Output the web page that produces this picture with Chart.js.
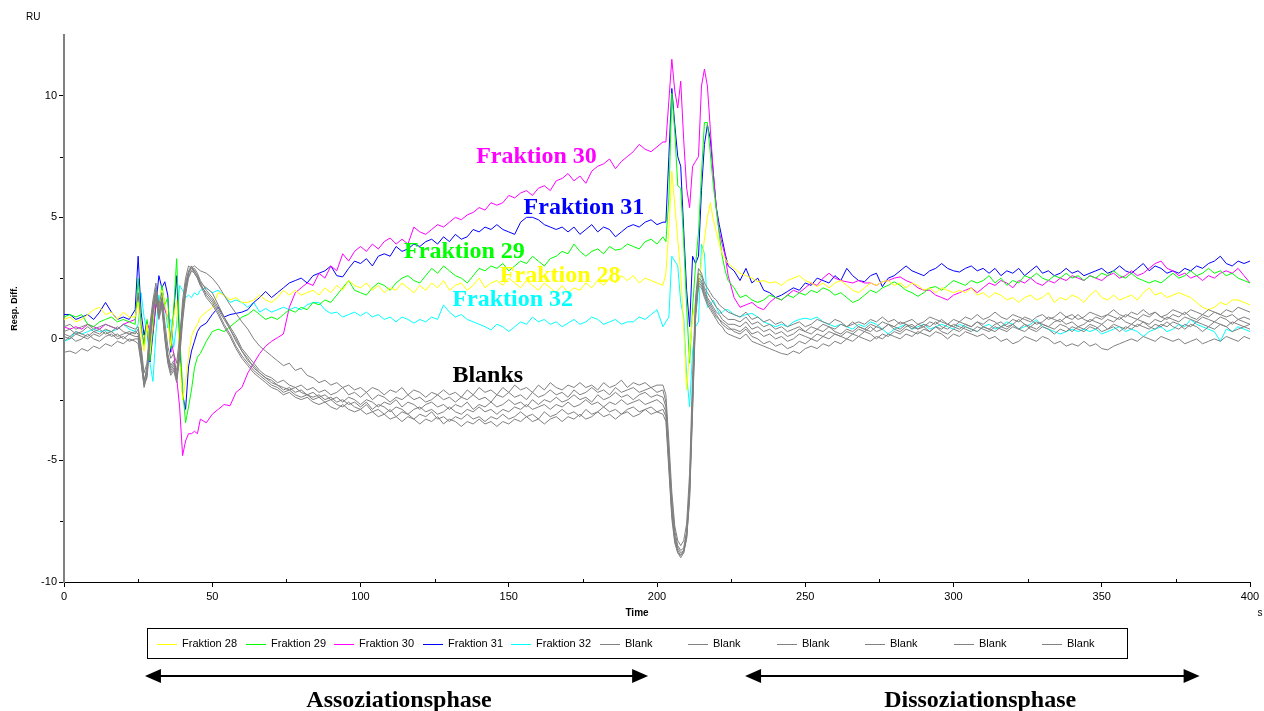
<!DOCTYPE html>
<html>
<head>
<meta charset="utf-8">
<title>Resp. Diff. – Fraktion 28–32</title>
<script src="https://cdn.jsdelivr.net/npm/chart.js@4.4.1/dist/chart.umd.min.js"></script>
<style>
  html, body { margin: 0; padding: 0; background: #fff; }
  canvas { display: block; }
</style>
</head>
<body>
<canvas id="sensorgram" width="1264" height="711"></canvas>
<script>
// Sampling times (s): 2 s steps, 1 s steps around the two injection switches
const times = [
  0,2,4,6,8,10,12,14,16,18,20,22,24,
  25,26,27,28,29,30,31,32,33,34,35,36,37,38,39,40,41,42,43,44,45,46,
  48,50,52,54,56,58,60,62,64,66,68,70,72,74,76,78,80,82,84,86,
  88,90,92,94,96,98,100,102,104,106,108,110,112,114,116,118,120,122,124,126,
  128,130,132,134,136,138,140,142,144,146,148,150,152,154,156,158,160,162,164,166,
  168,170,172,174,176,178,180,182,184,186,188,190,192,194,196,198,200,202,
  203,204,205,206,207,208,209,210,211,212,213,214,215,216,217,218,219,220,221,222,223,224,
  226,228,230,232,234,236,238,240,242,244,246,248,250,252,254,256,258,260,262,264,
  266,268,270,272,274,276,278,280,282,284,286,288,290,292,294,296,298,300,302,304,
  306,308,310,312,314,316,318,320,322,324,326,328,330,332,334,336,338,340,342,344,
  346,348,350,352,354,356,358,360,362,364,366,368,370,372,374,376,378,380,382,384,
  386,388,390,392,394,396,398,400
];

// Response differences (RU)
const fraktion28 = [
  0.8,0.9,0.7,0.8,1.0,1.2,1.3,1.0,1.1,0.8,1.1,0.9,0.9,
  1.5,0.2,-0.5,0.6,-0.6,0.8,1.9,1.2,2.0,1.5, 0.8,-0.3,0.9,1.6,-0.8,-2.5,-1.8,-0.75,0.1,0.4, 0.6,0.9,
  1.1,1.3,1.9,1.8,1.6,1.7,1.5,1.5,1.6,1.8, 1.6,1.5,1.7,2.0,1.8,2.0,1.8,1.9,2.0,1.8,
  2.1,1.9,2.2,2.0,2.4,2.2,2.1,2.3,2.0,2.2, 1.9,2.1,2.0,2.3,2.1,1.9,2.2,2.0,2.3,2.1,
  2.4,2.0,2.2,2.3,2.0,2.2,2.5,2.1,2.3,2.4, 2.2,2.5,2.3,2.1,2.4,2.2,2.0,2.3,2.1,1.9,
  2.2,1.9,2.1,2.0,2.3,2.1,2.4,2.2,2.5,2.3, 2.6,2.4,2.6,2.3,2.5,2.4,2.3,2.2,
  2.7,4.5,6.9,5.5,4.1,2.7,0.5,-2.1,-0.5,0.9, 1.5,2.0,3.2,4.1,5.0,5.6,4.9,4.4,3.9,3.5, 3.3,3.1,
  2.9,2.7,2.6,2.5,2.35,2.4,2.3,2.35,2.2,2.4, 2.5,2.6,2.4,2.3,2.15,2.3,2.1,2.3,2.4,2.2,
  2.0,1.9,2.1,2.3,2.2,2.35,2.4,2.2,2.3,2.1, 2.3,2.2,2.0,2.1,1.9,2.1,2.0,1.9,2.0,1.9,
  2.1,1.8,1.9,1.7,1.9,1.8,1.6,1.7,1.5,1.7, 1.8,1.6,1.7,1.9,1.5,1.7,1.6,1.8,1.7,1.5,
  1.8,2.0,1.7,1.6,1.8,1.6,1.7,1.8,1.6,1.9, 2.1,1.8,1.9,1.7,1.8,1.9,1.8,1.7,1.5,1.3,
  1.2,1.3,1.5,1.4,1.6,1.6,1.5,1.4
];
const fraktion29 = [
  0.9,1.0,0.9,1.0,0.6,0.5,0.7,0.8,0.9,0.7,0.8,0.7,0.6,
  2.5,0.6,-0.3,0.8,-0.9,0.5,2.0,1.0,2.2,1.4, 1.7,-0.4,1.2,3.3,0.2,-2.0,-3.45,-2.8,-2.1,-1.2, -0.75,-0.6,
  -0.1,0.3,0.4,0.3,0.5,0.7,0.9,1.0,1.2,1.0, 0.8,0.9,0.8,1.0,1.2,1.1,1.3,1.2,1.5,1.4,
  1.6,1.5,1.8,2.1,2.4,2.0,1.9,1.8,2.1,2.3, 2.2,2.0,2.3,2.5,2.6,2.4,2.3,2.6,2.9,2.7,
  3.0,2.8,2.6,2.5,2.3,2.6,2.9,2.8,3.0,2.9, 3.1,2.8,3.0,3.2,3.1,3.4,3.2,3.0,3.3,3.4,
  3.6,3.5,3.9,3.6,3.4,3.6,3.7,3.5,3.8,3.65, 3.7,3.9,3.8,3.7,4.0,4.1,3.9,4.2,
  4.0,5.8,10.1,8.5,6.3,6.2,4.0,1.3,-1.0,1.3, 3.0,4.4,6.8,8.9,8.9,7.6,6.3,5.3,4.3,3.4, 2.8,2.4,
  2.1,1.7,1.8,1.6,1.5,1.6,1.8,1.7,1.6,1.8, 1.7,1.9,1.8,2.0,1.9,2.1,2.0,1.8,1.9,1.7,
  1.5,1.6,1.8,2.0,1.9,2.1,2.2,2.35,2.2,2.0, 1.9,1.75,1.9,2.1,2.15,2.0,2.2,2.4,2.3,2.2,
  2.4,2.3,2.4,2.6,2.3,2.5,2.2,2.4,2.3,2.6, 2.5,2.7,2.5,2.4,2.6,2.5,2.7,2.5,2.6,2.4,
  2.6,2.5,2.7,2.6,2.8,2.6,2.5,2.7,2.5,2.4, 2.3,2.4,2.3,2.5,2.7,2.5,2.6,2.8,2.6,2.7,
  2.9,2.7,2.8,2.6,2.7,2.5,2.4,2.3
];
const fraktion30 = [
  0.5,0.4,0.5,0.4,0.6,0.5,0.4,0.6,0.5,0.4,0.6,0.7,0.8,
  1.9,0.4,-0.2,0.7,0.3,0.2,1.5,1.0,1.6,1.2, 0.9,0.0,-0.6,-1.6,-2.8,-4.8,-4.2,-3.9,-3.9,-3.8, -3.9,-3.3,
  -3.45,-3.1,-2.9,-2.7,-2.75,-2.2,-2.0,-1.4,-1.0,-0.6, -0.3,-0.1,0.05,0.2,1.3,1.9,2.1,2.3,2.2,2.7,
  2.5,3.0,2.8,3.5,3.2,3.6,3.8,3.6,3.9,3.7, 4.0,4.15,3.9,4.1,3.9,4.6,4.4,4.3,4.5,4.7,
  4.6,4.8,5.0,4.9,5.1,5.2,5.4,5.3,5.6,5.5, 5.6,5.9,5.8,6.0,6.1,5.9,6.2,6.3,6.1,6.5,
  6.6,6.8,6.5,6.7,6.4,6.9,7.1,7.2,7.4,7.0, 7.3,7.5,7.7,8.0,7.8,7.7,7.9,8.1,
  8.1,9.8,11.5,10.2,9.5,10.6,8.2,6.2,5.4,7.1, 7.3,7.5,10.4,11.1,10.4,8.6,6.8,5.4,4.4,3.9, 3.4,2.6,
  1.7,1.3,1.4,1.5,1.3,1.2,1.5,1.7,1.6,1.8, 2.0,1.9,2.1,2.3,2.2,2.5,2.7,2.5,2.4,2.35,
  2.3,2.4,2.3,2.3,2.2,2.35,2.4,2.5,2.55,2.4, 2.3,2.1,2.0,2.0,1.8,1.7,1.6,1.8,1.9,2.0,
  2.1,1.9,2.1,2.3,2.2,2.4,2.3,2.1,2.4,2.3, 2.5,2.3,2.2,2.4,2.3,2.5,2.4,2.6,2.5,2.4,
  2.6,2.5,2.4,2.6,2.7,2.5,2.6,2.8,2.6,2.7, 2.9,3.1,3.2,2.9,2.8,2.6,2.7,2.5,2.6,2.4,
  2.6,2.5,2.7,2.8,2.7,2.9,2.6,2.3
];
const fraktion31 = [
  1.0,1.0,0.8,0.9,1.0,0.8,1.1,1.5,1.1,0.8,0.9,0.8,1.2,
  3.4,1.1,0.15,0.7,-0.95,0.2,1.4,2.6,2.1,2.35, 1.8,-0.55,1.1,2.6,-0.25,-2.3,-2.9,-1.15,-0.5,-0.1, 0.3,0.5,
  0.65,1.0,1.3,0.9,1.0,1.05,1.1,1.2,1.5,1.7, 1.95,1.7,1.9,2.1,2.3,2.4,2.5,2.3,2.6,2.7,
  2.8,3.0,2.6,2.55,2.9,3.2,3.1,3.3,3.0,3.4, 3.5,3.4,3.8,3.6,3.7,3.9,3.8,4.0,4.1,3.9,
  4.2,4.0,4.3,4.1,4.2,4.5,4.4,4.6,4.5,4.7, 4.5,4.4,4.3,4.8,5.0,5.0,4.9,4.7,4.6,4.5,
  4.6,4.4,4.6,4.3,4.5,4.7,4.4,4.6,4.5,4.2, 4.4,4.6,4.7,4.6,4.8,4.9,4.7,4.8,
  4.8,7.5,10.3,8.8,7.5,7.1,4.5,2.0,0.5,3.4, 3.1,3.4,6.1,8.0,8.8,8.2,6.8,5.4,4.7,4.1, 3.5,3.0,
  2.8,2.4,2.9,2.3,2.5,2.0,1.9,1.7,1.8,1.95, 2.1,2.0,2.3,2.2,2.5,2.4,2.3,2.6,2.4,2.9,
  2.6,2.4,2.35,2.6,2.7,2.15,2.5,2.6,2.8,3.0, 2.8,2.7,2.6,2.8,2.9,3.1,2.9,2.8,2.75,2.9,
  3.0,2.8,2.9,2.7,2.9,2.6,2.8,2.7,2.9,2.6, 2.8,3.0,2.7,2.8,2.6,2.7,2.9,2.7,2.8,2.6,
  2.7,2.8,2.9,2.7,2.8,3.0,2.8,2.7,2.9,3.1, 2.8,3.0,2.9,2.7,2.8,2.7,2.9,2.8,3.0,2.9,
  3.1,3.2,3.4,3.1,3.0,3.2,3.1,3.2
];
const fraktion32 = [
  -0.1,0.0,0.3,0.2,0.3,0.4,0.3,0.35,0.3,0.4,0.6,0.4,0.3,
  0.6,1.9,0.9,0.3,-1.0,-1.75,0.2,1.8,1.2,1.4, 0.45,0.8,-0.35,0.6,2.2,2.0,1.7,1.8,1.7,1.9, 1.8,2.0,
  2.1,1.9,2.0,1.8,1.5,1.6,1.5,1.3,1.5,1.1, 1.25,1.1,1.2,1.3,1.2,1.3,1.2,1.4,1.5,1.5,
  1.2,1.05,1.1,0.9,1.0,1.1,0.95,1.1,0.9,1.0, 0.8,0.9,0.7,0.9,0.8,0.65,0.8,0.7,0.9,0.8,
  1.4,1.1,0.9,1.0,0.8,0.7,0.6,0.5,0.37,0.6, 0.5,0.3,0.5,0.7,0.6,0.9,0.7,0.8,0.6,0.7,
  0.5,0.65,0.8,0.6,0.7,0.9,0.8,0.6,0.7,0.8, 0.6,0.7,0.7,0.9,0.8,1.0,1.2,0.5,
  0.7,0.9,3.4,3.2,3.0,1.5,0.9,-1.5,-2.8,-0.5, 0.5,0.7,3.9,3.5,1.3,1.4,1.6,1.3,1.05,1.1, 1.2,1.2,
  1.0,0.9,1.0,1.05,0.9,0.7,0.6,0.5,0.6,0.5, 0.7,0.8,0.85,0.8,0.9,0.7,0.6,0.5,0.6,0.5,
  0.4,0.6,0.5,0.7,0.6,0.4,0.2,0.4,0.5,0.6, 0.4,0.5,0.6,0.4,0.5,0.6,0.5,0.4,0.6,0.5,
  0.4,0.3,0.5,0.6,0.4,0.5,0.7,0.6,0.4,0.5, 0.6,0.8,0.5,0.4,0.3,0.2,0.3,0.4,0.3,0.4,
  0.3,0.4,0.2,0.3,0.4,0.5,0.3,0.4,0.3,0.1, 0.3,0.4,0.5,0.3,0.4,0.6,0.5,0.8,0.6,0.5,
  0.4,0.3,-0.1,0.4,0.3,0.5,0.4,0.3
];
const blank1 = [
  0.5,0.6,0.4,0.5,0.6,0.4,0.5,0.6,0.5,0.4,0.6,0.5,0.4,
  0.5,-0.3,-1.4,-1.0,0.6,1.6,2.3,1.4,1.9,0.7, -0.3,-0.8,-0.6,-1.0,0.1,1.3,2.2,2.7,2.9,3.0, 2.9,2.8,
  2.7,2.5,2.2,1.8,1.4,1.05,0.7,0.4,0.0,-0.3, -0.5,-0.7,-0.9,-1.1,-1.0,-1.3,-1.2,-1.5,-1.6,-1.8,
  -1.7,-1.9,-1.8,-2.0,-1.9,-2.1,-2.0,-2.2,-2.0,-2.1, -2.3,-2.1,-2.2,-2.0,-2.3,-2.1,-2.2,-2.4,-2.2,-2.3,
  -2.1,-2.3,-2.2,-2.4,-2.1,-2.3,-2.0,-2.2,-2.1,-2.3, -2.0,-2.2,-1.9,-2.1,-2.0,-2.2,-1.9,-2.1,-1.8,-2.0,
  -2.1,-1.9,-2.0,-1.8,-2.0,-1.9,-2.1,-1.8,-2.0,-1.9, -1.7,-2.0,-1.8,-1.9,-1.8,-2.0,-1.9,-1.9,
  -2.3,-4.2,-6.3,-7.7,-8.3,-8.5,-8.3,-7.6,-5.5,-1.5, 1.7,2.9,2.7,2.3,2.1,1.9,1.7,1.6,1.4,1.3, 1.2,1.1,
  1.0,0.9,1.1,0.8,0.9,0.7,0.8,0.6,0.7,0.5, 0.6,0.7,0.5,0.6,0.8,0.7,0.6,0.8,0.7,0.5,
  0.6,0.7,0.6,0.8,0.7,0.9,0.7,0.8,0.6,0.7, 0.8,0.6,0.7,0.9,0.8,0.7,0.6,0.8,0.7,0.9,
  0.8,1.0,0.8,0.9,1.1,0.9,0.8,1.0,0.9,0.8, 0.7,0.9,1.0,0.8,0.9,1.1,0.9,1.0,0.8,0.9,
  1.1,1.0,0.9,1.0,1.2,1.0,0.9,1.1,1.0,1.2, 1.0,1.1,0.9,1.0,1.2,1.1,1.0,1.2,1.1,1.0,
  1.2,1.1,1.0,1.2,1.1,1.3,1.2,1.1
];
const blank2 = [
  0.3,0.4,0.2,0.3,0.5,0.3,0.2,0.4,0.3,0.5,0.3,0.2,0.3,
  0.2,-0.6,-1.7,-1.3,0.4,1.4,2.1,1.1,1.7,0.4, -0.6,-1.1,-0.9,-1.3,-0.2,1.6,2.5,3.0,2.9,2.8, 2.6,2.3,
  2.1,1.9,1.4,0.9,0.5,0.1,-0.4,-0.7,-1.0,-1.3, -1.5,-1.6,-1.8,-1.7,-1.9,-2.0,-1.9,-2.1,-2.0,-2.2,
  -2.1,-2.3,-2.2,-2.0,-2.3,-2.2,-2.4,-2.2,-2.5,-2.3, -2.4,-2.6,-2.4,-2.5,-2.3,-2.5,-2.4,-2.6,-2.5,-2.3,
  -2.5,-2.4,-2.6,-2.4,-2.5,-2.3,-2.5,-2.4,-2.6,-2.3, -2.4,-2.2,-2.4,-2.3,-2.5,-2.2,-2.4,-2.3,-2.1,-2.3,
  -2.2,-2.4,-2.1,-2.3,-2.2,-2.0,-2.2,-2.1,-2.3,-2.0, -2.2,-2.1,-2.0,-2.2,-2.1,-2.0,-2.2,-2.1,
  -2.6,-4.6,-6.6,-7.9,-8.5,-8.7,-8.6,-7.9,-6.0,-2.2, 1.4,2.7,2.6,2.1,1.9,1.7,1.5,1.3,1.2,1.0, 0.9,0.8,
  0.8,0.7,0.9,0.6,0.7,0.5,0.6,0.4,0.5,0.3, 0.4,0.5,0.3,0.5,0.4,0.6,0.5,0.4,0.6,0.5,
  0.7,0.5,0.4,0.6,0.5,0.7,0.6,0.5,0.7,0.6, 0.4,0.6,0.5,0.7,0.6,0.8,0.6,0.5,0.7,0.6,
  0.5,0.7,0.6,0.8,0.7,0.5,0.6,0.8,0.7,0.9, 0.8,0.6,0.7,0.9,0.8,0.7,0.9,0.8,1.0,0.8,
  0.7,0.9,0.8,1.0,0.9,0.8,1.0,0.9,0.8,1.0, 0.9,1.1,0.9,0.8,1.0,0.9,1.1,0.9,0.8,1.0,
  0.9,1.1,1.0,0.9,1.0,0.8,0.9,0.8
];
const blank3 = [
  0.2,0.1,0.3,0.2,0.1,0.3,0.4,0.2,0.3,0.1,0.2,0.3,0.2,
  0.4,-0.4,-1.8,-1.1,0.3,1.3,2.0,1.3,1.6,0.3, -0.7,-1.2,-1.0,-1.5,-0.4,1.2,2.3,2.8,3.0,2.7, 2.5,2.2,
  1.9,1.6,1.2,0.8,0.4,0.0,-0.5,-0.8,-1.2,-1.4, -1.6,-1.7,-1.9,-2.0,-2.1,-2.0,-2.2,-2.3,-2.2,-2.4,
  -2.3,-2.5,-2.4,-2.6,-2.4,-2.5,-2.7,-2.5,-2.6,-2.8, -2.6,-2.7,-2.5,-2.8,-2.6,-2.7,-2.9,-2.7,-2.6,-2.8,
  -2.7,-2.9,-2.7,-2.8,-2.6,-2.9,-2.7,-2.8,-2.6,-2.8, -2.7,-2.5,-2.7,-2.6,-2.8,-2.5,-2.7,-2.5,-2.6,-2.4,
  -2.6,-2.5,-2.3,-2.5,-2.4,-2.6,-2.3,-2.5,-2.4,-2.2, -2.4,-2.3,-2.5,-2.3,-2.2,-2.4,-2.3,-2.4,
  -2.8,-4.9,-6.9,-8.1,-8.6,-8.8,-8.7,-8.1,-6.3,-2.5, 1.2,2.5,2.4,2.0,1.7,1.5,1.3,1.1,1.0,0.8, 0.7,0.6,
  0.6,0.5,0.7,0.4,0.5,0.3,0.4,0.2,0.3,0.1, 0.2,0.4,0.3,0.2,0.4,0.3,0.5,0.3,0.2,0.4,
  0.3,0.5,0.4,0.3,0.5,0.4,0.6,0.4,0.3,0.5, 0.6,0.4,0.5,0.3,0.5,0.4,0.6,0.5,0.4,0.6,
  0.5,0.7,0.5,0.4,0.6,0.7,0.5,0.6,0.8,0.6, 0.5,0.7,0.6,0.5,0.7,0.8,0.6,0.7,0.5,0.6,
  0.8,0.7,0.6,0.8,0.7,0.9,0.7,0.6,0.8,0.7, 0.6,0.8,0.7,0.9,0.8,0.7,0.9,0.8,0.7,0.9,
  0.8,0.7,0.9,0.8,0.6,0.8,0.7,0.6
];
const blank4 = [
  0.1,0.0,0.2,0.1,0.0,0.2,0.1,0.3,0.1,0.2,0.0,0.2,0.1,
  0.1,-0.8,-1.9,-1.4,0.2,1.2,1.9,0.9,1.5,0.2, -0.8,-1.3,-1.1,-1.6,-0.5,1.0,2.1,2.6,2.8,2.9, 2.7,2.4,
  2.0,1.7,1.3,0.9,0.4,-0.1,-0.5,-0.9,-1.1,-1.4, -1.6,-1.8,-1.9,-2.1,-2.0,-2.2,-2.1,-2.3,-2.4,-2.3,
  -2.5,-2.4,-2.6,-2.5,-2.7,-2.6,-2.8,-2.6,-2.9,-2.7, -2.8,-3.0,-2.8,-2.9,-3.1,-2.9,-2.8,-3.0,-2.9,-3.1,
  -3.0,-2.8,-3.0,-3.1,-2.9,-3.0,-2.8,-3.0,-2.9,-3.1, -2.9,-3.0,-2.8,-2.9,-2.7,-2.9,-2.8,-2.7,-2.9,-2.7,
  -2.8,-2.6,-2.8,-2.7,-2.5,-2.7,-2.6,-2.8,-2.6,-2.7, -2.5,-2.7,-2.6,-2.5,-2.7,-2.6,-2.5,-2.7,
  -3.0,-5.0,-7.1,-8.2,-8.7,-8.9,-8.8,-8.2,-6.5,-2.8, 1.0,2.3,2.2,1.8,1.5,1.3,1.1,0.9,0.8,0.6, 0.5,0.4,
  0.4,0.3,0.5,0.2,0.3,0.1,0.2,0.0,0.1,-0.1, 0.0,0.2,0.1,0.0,0.2,0.1,0.3,0.2,0.1,0.3,
  0.2,0.4,0.3,0.5,0.3,0.4,0.6,0.5,0.4,0.6, 0.5,0.4,0.6,0.5,0.7,0.5,0.4,0.6,0.5,0.4,
  0.3,0.5,0.4,0.3,0.5,0.4,0.3,0.5,0.4,0.6, 0.4,0.3,0.5,0.4,0.2,0.4,0.3,0.5,0.4,0.3,
  0.5,0.4,0.6,0.4,0.5,0.3,0.5,0.4,0.6,0.5, 0.4,0.6,0.5,0.7,0.5,0.4,0.6,0.5,0.7,0.6,
  0.5,0.7,0.6,0.5,0.7,0.6,0.5,0.6
];
const blank5 = [
  -0.1,0.1,-0.1,0.0,0.2,0.0,-0.1,0.1,0.2,0.0,0.1,-0.1,0.0,
  0.0,-0.9,-2.0,-1.5,0.0,1.1,1.8,1.0,1.4,0.1, -0.9,-1.4,-1.2,-1.7,-0.6,0.9,2.0,2.7,3.0,2.8, 2.6,2.3,
  1.8,1.5,1.1,0.6,0.2,-0.3,-0.7,-1.0,-1.3,-1.5, -1.7,-1.9,-2.0,-2.2,-2.1,-2.3,-2.4,-2.3,-2.5,-2.4,
  -2.6,-2.5,-2.7,-2.8,-2.6,-2.8,-2.9,-2.7,-3.0,-2.9, -3.1,-2.9,-3.2,-3.0,-3.1,-3.3,-3.1,-3.2,-3.0,-3.3,
  -3.2,-3.4,-3.2,-3.3,-3.1,-3.3,-3.2,-3.4,-3.2,-3.3, -3.1,-3.3,-3.2,-3.0,-3.2,-3.1,-3.3,-3.0,-3.2,-3.1,
  -2.9,-3.1,-3.0,-3.2,-2.9,-3.1,-3.0,-2.8,-3.0,-2.9, -3.1,-2.9,-2.8,-3.0,-2.9,-2.8,-3.0,-2.9,
  -3.2,-5.2,-7.2,-8.3,-8.8,-8.9,-8.7,-8.0,-6.2,-2.4, 1.1,2.4,2.3,1.9,1.6,1.4,1.2,1.0,0.8,0.7, 0.6,0.5,
  0.3,0.2,0.4,0.1,0.0,-0.2,-0.1,-0.3,-0.2,-0.4, -0.3,-0.1,-0.2,0.0,-0.1,0.1,0.0,0.2,0.1,0.0,
  0.2,0.1,0.3,0.2,0.0,0.2,0.1,0.3,0.2,0.4, 0.3,0.2,0.4,0.3,0.5,0.3,0.2,0.4,0.3,0.5,
  0.4,0.3,0.5,0.4,0.3,0.5,0.4,0.6,0.4,0.3, 0.5,0.4,0.6,0.5,0.4,0.6,0.5,0.3,0.5,0.4,
  0.6,0.5,0.3,0.4,0.6,0.5,0.4,0.6,0.5,0.7, 0.5,0.4,0.6,0.5,0.7,0.6,0.4,0.6,0.5,0.3,
  0.5,0.4,0.6,0.5,0.3,0.4,0.5,0.4
];
const blank6 = [
  -0.55,-0.5,-0.6,-0.4,-0.5,-0.3,-0.4,-0.2,-0.3,-0.1,-0.2,0.0,-0.1,
  -0.2,-1.0,-1.9,-1.6,-0.2,1.0,1.7,0.8,1.3,0.0, -1.0,-1.5,-1.3,-1.8,-0.8,0.7,1.8,2.5,2.8,2.7, 2.5,2.2,
  1.7,1.4,1.0,0.5,0.1,-0.4,-0.8,-1.1,-1.4,-1.6, -1.8,-2.0,-2.1,-2.3,-2.2,-2.4,-2.5,-2.4,-2.6,-2.7,
  -2.6,-2.8,-2.9,-2.7,-2.9,-3.0,-2.9,-3.1,-3.0,-3.2, -3.1,-3.3,-3.2,-3.4,-3.2,-3.3,-3.5,-3.3,-3.4,-3.2,
  -3.5,-3.3,-3.4,-3.6,-3.4,-3.5,-3.3,-3.5,-3.4,-3.6, -3.4,-3.5,-3.3,-3.4,-3.2,-3.4,-3.3,-3.5,-3.3,-3.2,
  -3.4,-3.2,-3.3,-3.1,-3.3,-3.2,-3.0,-3.2,-3.1,-3.3, -3.1,-3.0,-3.2,-3.1,-2.9,-3.1,-3.0,-3.1,
  -3.4,-5.4,-7.4,-8.4,-8.8,-9.0,-8.8,-8.2,-6.6,-3.0, 0.8,2.2,2.1,1.7,1.4,1.2,1.0,0.8,0.6,0.5, 0.3,0.2,
  0.1,0.0,0.2,-0.1,-0.2,-0.3,-0.4,-0.5,-0.6,-0.65, -0.5,-0.6,-0.4,-0.3,-0.4,-0.2,-0.3,-0.1,-0.2,0.0,
  -0.1,0.1,0.0,-0.1,0.1,0.0,0.2,0.1,0.0,0.2, 0.1,0.3,0.2,0.1,0.3,0.2,0.0,0.2,0.1,0.3,
  0.2,0.1,0.2,0.0,0.1,-0.1,0.0,-0.2,-0.1,0.1, 0.0,-0.1,0.1,0.0,-0.2,-0.1,-0.3,-0.2,-0.3,-0.1,
  -0.3,-0.2,-0.4,-0.45,-0.3,-0.2,-0.1,0.0,-0.1,0.1, 0.0,-0.1,0.1,0.0,-0.1,0.0,-0.2,-0.1,0.0,-0.2,
  -0.1,0.0,-0.1,0.1,0.0,-0.1,0.1,0.0
];

const seriesNames = ['Fraktion 28','Fraktion 29','Fraktion 30','Fraktion 31','Fraktion 32',
                     'Blank','Blank','Blank','Blank','Blank','Blank'];
const seriesValues = [fraktion28, fraktion29, fraktion30, fraktion31, fraktion32,
                      blank1, blank2, blank3, blank4, blank5, blank6];

// Axis ticks
const yMajorTicks = [-10, -5, 0, 5, 10];
const yMinorTicks = [-7.5, -2.5, 2.5, 7.5];
const xMinorTicks = [25, 75, 125, 175, 225, 275, 325, 375];

// Styling
const SANS = '"Liberation Sans", Arial, Helvetica, sans-serif';
const SERIF = '"Liberation Serif", "Times New Roman", Times, serif';
const lineColors = ['#ffff00', '#00ff00', '#ff00ff', '#0000ff', '#00ffff',
                    '#808080', '#808080', '#808080', '#808080', '#808080', '#808080'];

// Curve captions, anchored in data units (time, RU)
const curveLabels = [
  { text: 'Fraktion 30', t: 139, v: 7.5, color: '#ff00ff' },
  { text: 'Fraktion 31', t: 155, v: 5.4, color: '#0000ff' },
  { text: 'Fraktion 29', t: 114.7, v: 3.6, color: '#00ff00' },
  { text: 'Fraktion 28', t: 147, v: 2.6, color: '#ffff00' },
  { text: 'Fraktion 32', t: 131, v: 1.6, color: '#00ffff' },
  { text: 'Blanks', t: 131, v: -1.5, color: '#000000' }
];

// Phase markers (time span of each arrow and caption position)
const phases = [
  { text: 'Assoziationsphase', from: 27.3, to: 197, labelAt: 113 },
  { text: 'Dissoziationsphase', from: 229.7, to: 383, labelAt: 309 }
];

Chart.defaults.font.family = SANS;
Chart.defaults.color = '#000';

function arrowHead(ctx, tipX, y, dir) {
  ctx.beginPath();
  ctx.moveTo(tipX, y);
  ctx.lineTo(tipX + dir * 16, y - 7);
  ctx.lineTo(tipX + dir * 16, y + 7);
  ctx.closePath();
  ctx.fill();
}

const chartDecor = {
  id: 'chartDecor',
  beforeDraw(chart) {
    const ctx = chart.ctx;
    ctx.save();
    ctx.fillStyle = '#ffffff';
    ctx.fillRect(0, 0, chart.width, chart.height);
    ctx.restore();
  },
  afterDraw(chart) {
    const { ctx, chartArea, scales: { x, y } } = chart;
    ctx.save();

    // minor tick marks
    ctx.strokeStyle = '#000';
    ctx.lineWidth = 1;
    yMinorTicks.forEach(v => {
      const py = Math.round(y.getPixelForValue(v)) + 0.5;
      ctx.beginPath();
      ctx.moveTo(chartArea.left - 4, py);
      ctx.lineTo(chartArea.left - 1, py);
      ctx.stroke();
    });
    xMinorTicks.forEach(t => {
      const px = Math.round(x.getPixelForValue(t)) + 0.5;
      ctx.beginPath();
      ctx.moveTo(px, chartArea.bottom - 3);
      ctx.lineTo(px, chartArea.bottom);
      ctx.stroke();
    });

    // axis captions
    ctx.fillStyle = '#000';
    ctx.textBaseline = 'middle';
    ctx.textAlign = 'left';
    ctx.font = `10px ${SANS}`;
    ctx.fillText('RU', 26, 17);
    ctx.textAlign = 'center';
    ctx.fillText('s', 1260, 613);
    ctx.font = `bold 10px ${SANS}`;
    ctx.fillText('Time', 637, 613);
    ctx.save();
    ctx.translate(15, (chartArea.top + chartArea.bottom) / 2);
    ctx.rotate(-Math.PI / 2);
    ctx.font = `bold 9px ${SANS}`;
    ctx.fillText('Resp. Diff.', 0, 0);
    ctx.restore();

    // curve captions
    ctx.textAlign = 'left';
    ctx.textBaseline = 'middle';
    ctx.font = `bold 24px ${SERIF}`;
    curveLabels.forEach(l => {
      ctx.fillStyle = l.color;
      ctx.fillText(l.text, x.getPixelForValue(l.t), y.getPixelForValue(l.v));
    });

    // legend
    ctx.strokeStyle = '#000';
    ctx.lineWidth = 1;
    ctx.strokeRect(147.5, 628.5, 980, 30);
    ctx.font = `11px ${SANS}`;
    ctx.textBaseline = 'middle';
    chart.data.datasets.forEach((ds, i) => {
      const lx = Math.round(157 + i * 88.5);
      ctx.strokeStyle = ds.borderColor;
      ctx.beginPath();
      ctx.moveTo(lx, 644.5);
      ctx.lineTo(lx + 20, 644.5);
      ctx.stroke();
      ctx.fillStyle = '#000';
      ctx.fillText(ds.label, lx + 25, 644);
    });

    // phase arrows and captions
    ctx.strokeStyle = '#000';
    ctx.fillStyle = '#000';
    ctx.lineWidth = 2;
    phases.forEach(p => {
      const x1 = x.getPixelForValue(p.from);
      const x2 = x.getPixelForValue(p.to);
      ctx.beginPath();
      ctx.moveTo(x1 + 10, 676);
      ctx.lineTo(x2 - 10, 676);
      ctx.stroke();
      arrowHead(ctx, x1, 676, 1);
      arrowHead(ctx, x2, 676, -1);
      ctx.font = `bold 24px ${SERIF}`;
      ctx.textAlign = 'center';
      ctx.textBaseline = 'alphabetic';
      ctx.fillText(p.text, x.getPixelForValue(p.labelAt), 707);
    });

    ctx.restore();
  }
};

const datasets = seriesNames.map((name, i) => ({
  label: name,
  data: seriesValues[i].map((v, j) => ({ x: times[j], y: v })),
  borderColor: lineColors[i],
  borderWidth: 1,
  pointRadius: 0,
  tension: 0,
  fill: false,
  order: name === 'Blank' ? 0 : 1
}));

new Chart(document.getElementById('sensorgram'), {
  type: 'line',
  data: { datasets },
  plugins: [chartDecor],
  options: {
    responsive: false,
    animation: false,
    devicePixelRatio: 1,
    events: [],
    layout: { padding: { top: 35, right: 14, bottom: 0, left: 0 } },
    plugins: {
      legend: { display: false },
      tooltip: { enabled: false }
    },
    scales: {
      x: {
        type: 'linear',
        min: 0,
        max: 400,
        ticks: { stepSize: 50, font: { size: 11 }, color: '#000', maxRotation: 0, padding: 3 },
        grid: { drawOnChartArea: false, tickLength: 5, tickColor: '#000' },
        border: { color: '#000', width: 1 },
        afterFit: s => { s.height = 129; }
      },
      y: {
        type: 'linear',
        min: -10,
        max: 12.5,
        afterBuildTicks: s => { s.ticks = yMajorTicks.map(v => ({ value: v })); },
        ticks: { font: { size: 11 }, color: '#000', padding: 2, autoSkip: false },
        grid: { drawOnChartArea: false, tickLength: 5, tickColor: '#000' },
        border: { color: '#808080', width: 2 },
        afterFit: s => { s.width = 64; }
      }
    }
  }
});
</script>
</body>
</html>
